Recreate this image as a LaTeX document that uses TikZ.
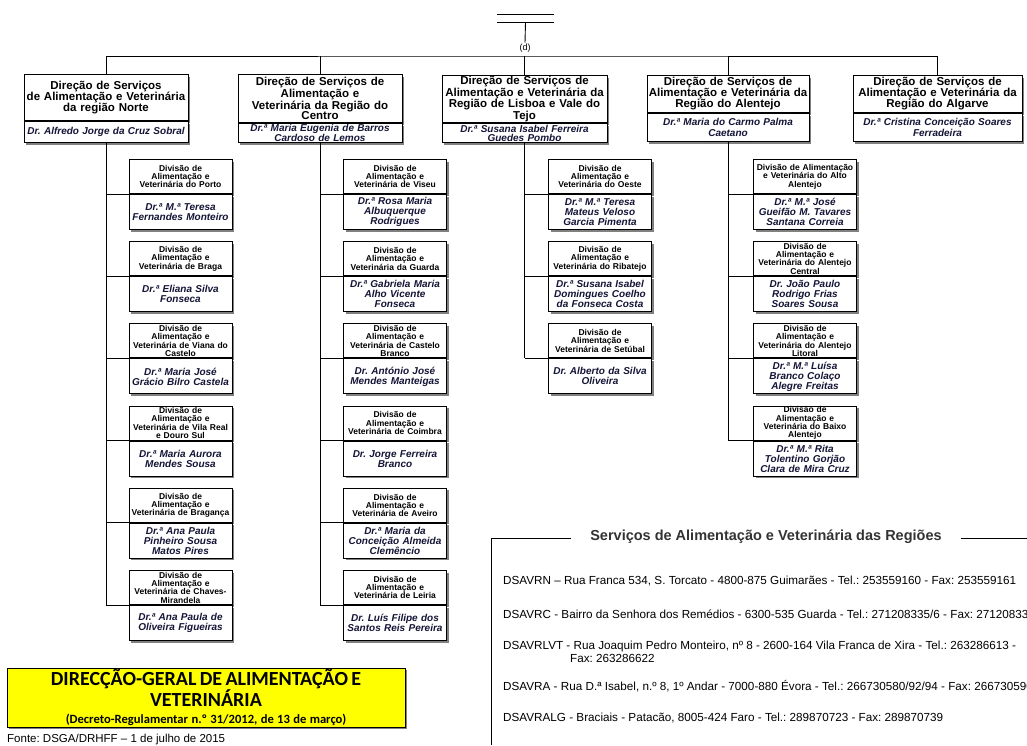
\documentclass[tikz,border=0pt]{standalone}
\usepackage{fontspec}
\setmainfont{Liberation Sans}
\newfontfamily\carlito{Carlito}
\usepackage{tikz}
\usetikzlibrary{shadows}
\frenchspacing
\definecolor{nomecor}{RGB}{20,20,55}
\definecolor{amarelo}{RGB}{255,255,0}

\tikzset{
  caixa/.style={draw, line width=1pt, fill=white, inner sep=0pt,
    drop shadow={shadow xshift=2pt, shadow yshift=-2pt, fill=black!50, opacity=1}},
  dirtit/.style={caixa, text width=#1, align=center, font=\bfseries\fontsize{11.5}{11}\selectfont},
  dirnome/.style={caixa, text width=#1, align=center, text=nomecor, font=\bfseries\itshape\fontsize{10}{11.5}\selectfont},
  divtit/.style={caixa, text width=103pt, minimum height=34pt, align=center, font=\bfseries\fontsize{8.5}{8.3}\selectfont},
  divnome/.style={caixa, text width=103pt, minimum height=35pt, align=center, text=nomecor, font=\bfseries\itshape\fontsize{10}{10}\selectfont},
  linha/.style={line width=0.9pt},
  morada/.style={anchor=base west, inner sep=0pt, align=left, font=\fontsize{11.7}{13}\selectfont},
}

\begin{document}
\begin{tikzpicture}[x=1pt, y=-1pt]
        \useasboundingbox (0,0) rectangle (1027,745);
        \clip (0,0) rectangle (1027,745);
        % topo
        \node[inner sep=0pt, minimum width=57pt, minimum height=7pt] (dg) at (525.5,18.5) {};
        \draw[linha] (dg.north west) -- (dg.north east) (dg.south west) -- (dg.south east);
        \node[inner sep=1pt, font=\fontsize{9}{9}\selectfont] (d) at (525,48) {(d)};
        \draw[linha] (dg.south) -- (d.north);
        \coordinate (barra) at (525,56);
        % direcoes de servicos
        \node[dirtit=164pt, minimum height=46pt, anchor=north] (norte) at (106,74) {Direção de Serviços\\de Alimentação e Veterinária\\da região Norte};
        \node[dirnome=164pt, minimum height=21pt, anchor=north] (norte-n) at (norte.south) {Dr. Alfredo Jorge da Cruz Sobral};
        \node[dirtit=164pt, minimum height=48pt, anchor=north, font=\bfseries\fontsize{11.5}{10.5}\selectfont] (centro) at (320,74) {Direção de Serviços de\\Alimentação e\\Veterinária da Região do\\Centro};
        \node[dirnome=164pt, minimum height=19pt, anchor=north, font=\bfseries\itshape\fontsize{10}{9}\selectfont] (centro-n) at (centro.south) {Dr.ª Maria Eugenia de Barros\\Cardoso de Lemos};
        \node[dirtit=165pt, minimum height=47pt, anchor=north, font=\bfseries\fontsize{11.5}{10.5}\selectfont] (lisboa) at (524.5,75) {Direção de Serviços de\\Alimentação e Veterinária da\\Região de Lisboa e Vale do\\Tejo};
        \node[dirnome=165pt, minimum height=19pt, anchor=north, font=\bfseries\itshape\fontsize{10}{9}\selectfont] (lisboa-n) at (lisboa.south) {Dr.ª Susana Isabel Ferreira\\Guedes Pombo};
        \node[dirtit=162pt, minimum height=37pt, anchor=north] (alentejo) at (728,75) {Direção de Serviços de\\Alimentação e Veterinária da\\Região do Alentejo};
        \node[dirnome=162pt, minimum height=28pt, anchor=north] (alentejo-n) at (alentejo.south) {Dr.ª Maria do Carmo Palma\\Caetano};
        \node[dirtit=169pt, minimum height=37pt, anchor=north] (algarve) at (937.5,75) {Direção de Serviços de\\Alimentação e Veterinária da\\Região do Algarve};
        \node[dirnome=169pt, minimum height=28pt, anchor=north] (algarve-n) at (algarve.south) {Dr.ª Cristina Conceição Soares\\Ferradeira};
        \draw[linha] (norte.north) |- (barra) -| (algarve.north);
        \foreach \c in {centro,lisboa,alentejo}
            \draw[linha] (\c.north) -- (\c.north |- barra);
        % divisoes
        \foreach \col/\cx/\row/\nm/\tit/\quem in {
            norte/180.5/0/porto/{Divisão de\\Alimentação e\\Veterinária do Porto}/{Dr.ª M.ª Teresa\\Fernandes Monteiro},
            norte/180.5/1/braga/{Divisão de\\Alimentação e\\Veterinária de Braga}/{Dr.ª Eliana Silva\\Fonseca},
            norte/180.5/2/viana/{Divisão de\\Alimentação e\\Veterinária de Viana do\\Castelo}/{Dr.ª Maria José\\Grácio Bilro Castela},
            norte/180.5/3/vilareal/{Divisão de\\Alimentação e\\Veterinária de Vila Real\\e Douro Sul}/{Dr.ª Maria Aurora\\Mendes Sousa},
            norte/180.5/4/braganca/{Divisão de\\Alimentação e\\Veterinária de Bragança}/{Dr.ª Ana Paula\\Pinheiro Sousa\\Matos Pires},
            norte/180.5/5/chaves/{Divisão de\\Alimentação e\\Veterinária de Chaves-\\Mirandela}/{Dr.ª Ana Paula de\\Oliveira Figueiras},
            centro/395/0/viseu/{Divisão de\\Alimentação e\\Veterinária de Viseu}/{Dr.ª Rosa Maria\\Albuquerque\\Rodrigues},
            centro/395/1/guarda/{Divisão de\\Alimentação e\\Veterinária da Guarda}/{Dr.ª Gabriela Maria\\Alho Vicente\\Fonseca},
            centro/395/2/castelo/{Divisão de\\Alimentação e\\Veterinária de Castelo\\Branco}/{Dr. António José\\Mendes Manteigas},
            centro/395/3/coimbra/{Divisão de\\Alimentação e\\Veterinária de Coimbra}/{Dr. Jorge Ferreira\\Branco},
            centro/395/4/aveiro/{Divisão de\\Alimentação e\\Veterinária de Aveiro}/{Dr.ª Maria da\\Conceição Almeida\\Clemêncio},
            centro/395/5/leiria/{Divisão de\\Alimentação e\\Veterinária de Leiria}/{Dr. Luís Filipe dos\\Santos Reis Pereira},
            lisboa/600/0/oeste/{Divisão de\\Alimentação e\\Veterinária do Oeste}/{Dr.ª M.ª Teresa\\Mateus Veloso\\Garcia Pimenta},
            lisboa/600/1/ribatejo/{Divisão de\\Alimentação e\\Veterinária do Ribatejo}/{Dr.ª Susana Isabel\\Domingues Coelho\\da Fonseca Costa},
            lisboa/600/2/setubal/{Divisão de\\Alimentação e\\Veterinária de Setúbal}/{Dr. Alberto da Silva\\Oliveira},
            alentejo/805/0/alto/{Divisão de Alimentação\\e Veterinária do Alto\\Alentejo}/{Dr.ª M.ª José\\Gueifão M. Tavares\\Santana Correia},
            alentejo/805/1/central/{Divisão de\\Alimentação e\\Veterinária do Alentejo\\Central}/{Dr. João Paulo\\Rodrigo Frias\\Soares Sousa},
            alentejo/805/2/litoral/{Divisão de\\Alimentação e\\Veterinária do Alentejo\\Litoral}/{Dr.ª M.ª Luísa\\Branco Colaço\\Alegre Freitas},
            alentejo/805/3/baixo/{Divisão de\\Alimentação e\\Veterinária do Baixo\\Alentejo}/{Dr.ª M.ª Rita\\Tolentino Gorjão\\Clara de Mira Cruz}}
        {
            \node[divtit, anchor=north] (\nm) at (\cx,159+82.2*\row) {\tit};
            \node[divnome, anchor=north] (\nm-n) at (\nm.south) {\quem};
            \draw[linha] (\col-n.south |- \nm.south west) -- (\nm.south west);
        }
        \foreach \col/\ult in {norte/chaves,centro/leiria,lisboa/setubal,alentejo/baixo}
            \draw[linha] (\col-n.south) -- (\col-n.south |- \ult.south west);
        % caixa amarela
        \node[caixa, fill=amarelo, text width=398pt, minimum height=59pt, align=center, font=\carlito\bfseries] (dgav) at (206,697.5)
            {{\fontsize{20}{20}\selectfont DIRECÇÃO-GERAL DE ALIMENTAÇÃO E\\VETERINÁRIA\par}{\fontsize{12.6}{17}\selectfont (Decreto-Regulamentar n.º 31/2012, de 13 de março)\par}};
        \node[anchor=base west, inner sep=0pt, font=\fontsize{11.5}{11.5}\selectfont] (fonte) at (7,742.5) {Fonte: DSGA/DRHFF – 1 de julho de 2015};
        % moradas
        \node[inner xsep=19pt, inner ysep=0pt, text=black!80, font=\bfseries\fontsize{14.5}{14.5}\selectfont] (regioes) at (766,536.5) {Serviços de Alimentação e Veterinária das Regiões};
        \coordinate (quadro-d) at (1027,538.5);
        \coordinate (quadro-e) at (491,745);
        \draw[linha] (regioes.west |- quadro-d) -| (quadro-e);
        \draw[linha] (regioes.east |- quadro-d) -- (quadro-d);
        \node[morada] (rn) at (503,584) {DSAVRN – Rua Franca 534, S. Torcato - 4800-875 Guimarães - Tel.: 253559160 - Fax: 253559161};
        \node[morada] (rc) at (503,618) {DSAVRC - Bairro da Senhora dos Remédios - 6300-535 Guarda - Tel.: 271208335/6 - Fax: 27120833};
        \node[morada] (rlvt) at (503,662) {DSAVRLVT - Rua Joaquim Pedro Monteiro, nº 8 - 2600-164 Vila Franca de Xira - Tel.: 263286613 -\\\hspace*{67pt}Fax: 263286622};
        \node[morada] (ra) at (503,690) {DSAVRA - Rua D.ª Isabel, n.º 8, 1º Andar - 7000-880 Évora - Tel.: 266730580/92/94 - Fax: 266730590};
        \node[morada] (ralg) at (503,721) {DSAVRALG - Braciais - Patacão, 8005-424 Faro - Tel.: 289870723 - Fax: 289870739};
\end{tikzpicture}
\end{document}
